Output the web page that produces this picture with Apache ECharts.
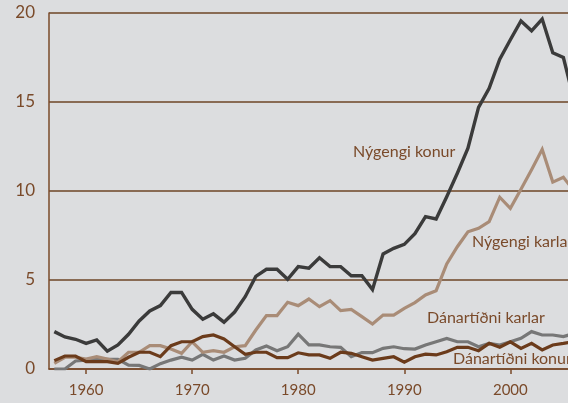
<!DOCTYPE html>
<html><head><meta charset="utf-8">
<script src="https://cdn.jsdelivr.net/npm/echarts@6/dist/echarts.min.js"></script>
<style>html,body{margin:0;padding:0;background:#dcdddf;}#c{width:568px;height:403px;}</style>
</head><body><div id="c"></div>
<script>
const years = [];
for (let y = 1957; y <= 2006; y++) years.push(y);
const xTickLabels = [1960, 1970, 1980, 1990, 2000];
const yTickLabels = [0, 5, 10, 15, 20];
const nygengiKonur = [2.1,1.8,1.67,1.44,1.63,1.0,1.35,1.95,2.7,3.26,3.56,4.3,4.3,3.35,2.8,3.1,2.63,3.2,4.06,5.2,5.6,5.6,5.04,5.75,5.66,6.25,5.75,5.75,5.24,5.24,4.46,6.46,6.78,7.0,7.6,8.56,8.43,9.68,11.0,12.4,14.7,15.77,17.4,18.5,19.55,19.0,19.66,17.77,17.5,15.1];
const nygengiKarlar = [0.32,0.66,0.66,0.56,0.69,0.56,0.41,0.94,0.94,1.31,1.31,1.12,0.88,1.53,0.94,1.03,0.94,1.25,1.31,2.19,3.0,3.0,3.75,3.56,3.93,3.5,3.84,3.28,3.35,2.94,2.53,3.03,3.03,3.41,3.73,4.16,4.4,5.9,6.87,7.71,7.9,8.28,9.65,9.03,10.1,11.2,12.34,10.5,10.77,10.0];
const danartidniKarlar = [0.0,0.0,0.45,0.5,0.54,0.54,0.54,0.22,0.2,0.0,0.3,0.5,0.66,0.5,0.83,0.5,0.73,0.5,0.6,1.07,1.29,1.03,1.25,1.96,1.35,1.35,1.25,1.22,0.69,0.92,0.92,1.16,1.25,1.14,1.12,1.35,1.53,1.72,1.53,1.53,1.25,1.44,1.35,1.53,1.72,2.1,1.91,1.91,1.82,2.0];
const danartidniKonur = [0.47,0.73,0.73,0.41,0.41,0.41,0.32,0.66,0.94,0.94,0.69,1.31,1.53,1.53,1.82,1.91,1.69,1.25,0.83,0.94,0.94,0.64,0.64,0.91,0.79,0.79,0.6,0.94,0.88,0.69,0.5,0.6,0.69,0.38,0.69,0.83,0.79,0.97,1.22,1.22,1.03,1.44,1.22,1.53,1.16,1.44,1.07,1.35,1.44,1.55];
const seriesNames = ['Dánartíðni karlar','Nýgengi karlar','Dánartíðni konur','Nýgengi konur'];

const brown = '#7a4a2a';
const font = 'Lato';
const pair = arr => years.map((y, i) => [y, arr[i]]);
const mk = (name, data, color, w) => ({
  name, type: 'line', data: pair(data), symbol: 'none',
  lineStyle: { color, width: w, join: 'miter' }, itemStyle: { color }, animation: false
});
const chart = echarts.init(document.getElementById('c'), null, { renderer: 'canvas' });
chart.setOption({
  backgroundColor: '#dcdddf',
  animation: false,
  grid: { left: 49, top: 13, right: -6, bottom: 34, outerBoundsMode: 'none', containLabel: false },
  xAxis: {
    type: 'value', min: 1956.5, max: 2006,
    axisLine: { show: true, lineStyle: { color: brown, width: 1.5 } },
    axisTick: { show: true, customValues: xTickLabels, length: 5, lineStyle: { color: brown, width: 1.5 } },
    axisLabel: { customValues: xTickLabels, color: brown, fontFamily: font, fontSize: 15, margin: 14, formatter: v => String(v) },
    splitLine: { show: false }
  },
  yAxis: {
    type: 'value', min: 0, max: 20, interval: 5,
    axisLine: { show: true, lineStyle: { color: brown, width: 1.5 } },
    axisTick: { show: false },
    axisLabel: { color: brown, fontFamily: font, fontSize: 17, margin: 14 },
    splitLine: { show: true, lineStyle: { color: '#6e4426', width: 1.5 } }
  },
  series: [
    mk(seriesNames[0], danartidniKarlar, '#777777', 3.2),
    mk(seriesNames[1], nygengiKarlar, '#a98c77', 3.2),
    mk(seriesNames[2], danartidniKonur, '#6b3b1b', 3.2),
    mk(seriesNames[3], nygengiKonur, '#3b3b3b', 3.4)
  ],
  graphic: [
    { type: 'text', left: 353, top: 144, style: { text: 'Nýgengi konur', fill: brown, font: '16px Lato' } },
    { type: 'text', left: 472, top: 234, style: { text: 'Nýgengi karlar', fill: brown, font: '16px Lato' } },
    { type: 'text', left: 427, top: 310, style: { text: 'Dánartíðni karlar', fill: brown, font: '16px Lato' } },
    { type: 'text', left: 453, top: 351, style: { text: 'Dánartíðni konur', fill: brown, font: '16px Lato' } }
  ]
});
</script></body></html>
